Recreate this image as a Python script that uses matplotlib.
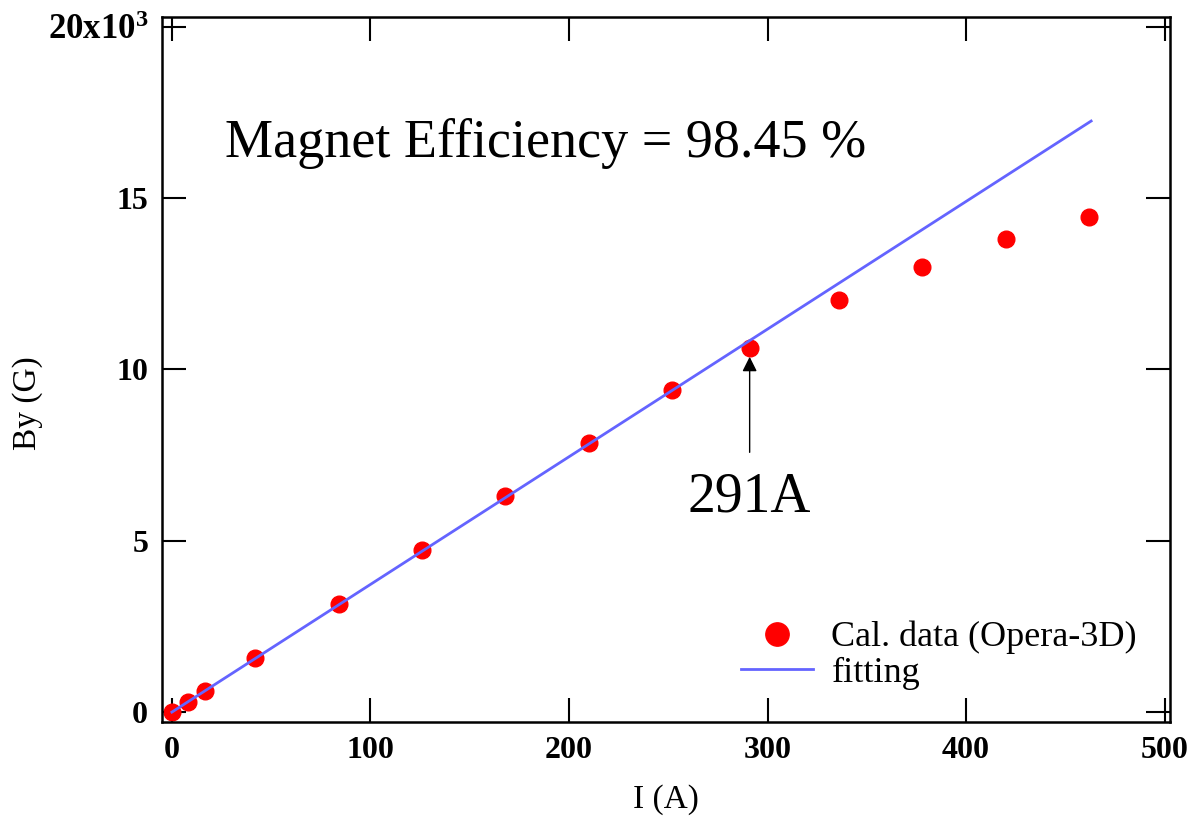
import matplotlib.pyplot as plt

# Calculated field vs. current
current_A = [0, 8, 16.8, 42, 84, 126, 168, 210, 252, 291, 336, 378, 420, 462]
by_gauss = [0, 290, 610, 1580, 3150, 4730, 6300, 7850, 9400, 10620, 12020, 13000, 13820, 14450]

# linear fit endpoints
fit_I = [0, 463]
fit_B = [0, 17250]

x_ticks = [0, 100, 200, 300, 400, 500]
y_ticks = [0, 5000, 10000, 15000, 20000]
y_tick_labels = ["0", "5", "10", "15", r"20x10$^{3}$"]

plt.rcParams["font.family"] = ["Liberation Serif", "DejaVu Serif"]
plt.rcParams["mathtext.fontset"] = "custom"
plt.rcParams["mathtext.rm"] = "Liberation Serif:bold"
plt.rcParams["mathtext.default"] = "rm"

fig = plt.figure(figsize=(11.91, 8.19), dpi=100)
ax = fig.add_axes([0.136, 0.1184, 0.846, 0.861])

ax.plot(current_A, by_gauss, "o", color="#ff0000", markersize=12, label="Cal. data (Opera-3D)")
ax.plot(fit_I, fit_B, "-", color="#6464ff", lw=2, label="fitting")

ax.set_xlim(-5, 502.5)
ax.set_ylim(-290, 20290)
ax.set_xticks(x_ticks)
ax.set_xticklabels([str(v) for v in x_ticks], fontweight="bold")
ax.set_yticks(y_ticks)
ax.set_yticklabels(y_tick_labels, fontweight="bold")
ax.tick_params(direction="in", top=True, right=True, length=17, width=1.5,
               labelsize=23, pad=10)
ax.get_yticklabels()[-1].set_fontsize(25)
for s in ax.spines.values():
    s.set_linewidth(1.8)

ax.set_xlabel("I (A)", fontsize=24, labelpad=14)
ax.set_ylabel("By (G)", fontsize=24)
ax.yaxis.set_label_coords(-0.118, 0.452)

ax.text(188, 16600, "Magnet Efficiency = 98.45 %", fontsize=39, ha="center", va="center")
ax.annotate("", xy=(291, 10450), xytext=(291, 7500),
            arrowprops=dict(arrowstyle="-|>", color="k", lw=1, mutation_scale=22))
ax.text(291, 6250, "291A", fontsize=40, ha="center", va="center")

ax.legend(loc="lower right", frameon=False, fontsize=26, markerscale=1.4,
          handlelength=2.0, handletextpad=0.5, labelspacing=0.05,
          borderaxespad=0.5)

fig.savefig("out.png", dpi=100)
